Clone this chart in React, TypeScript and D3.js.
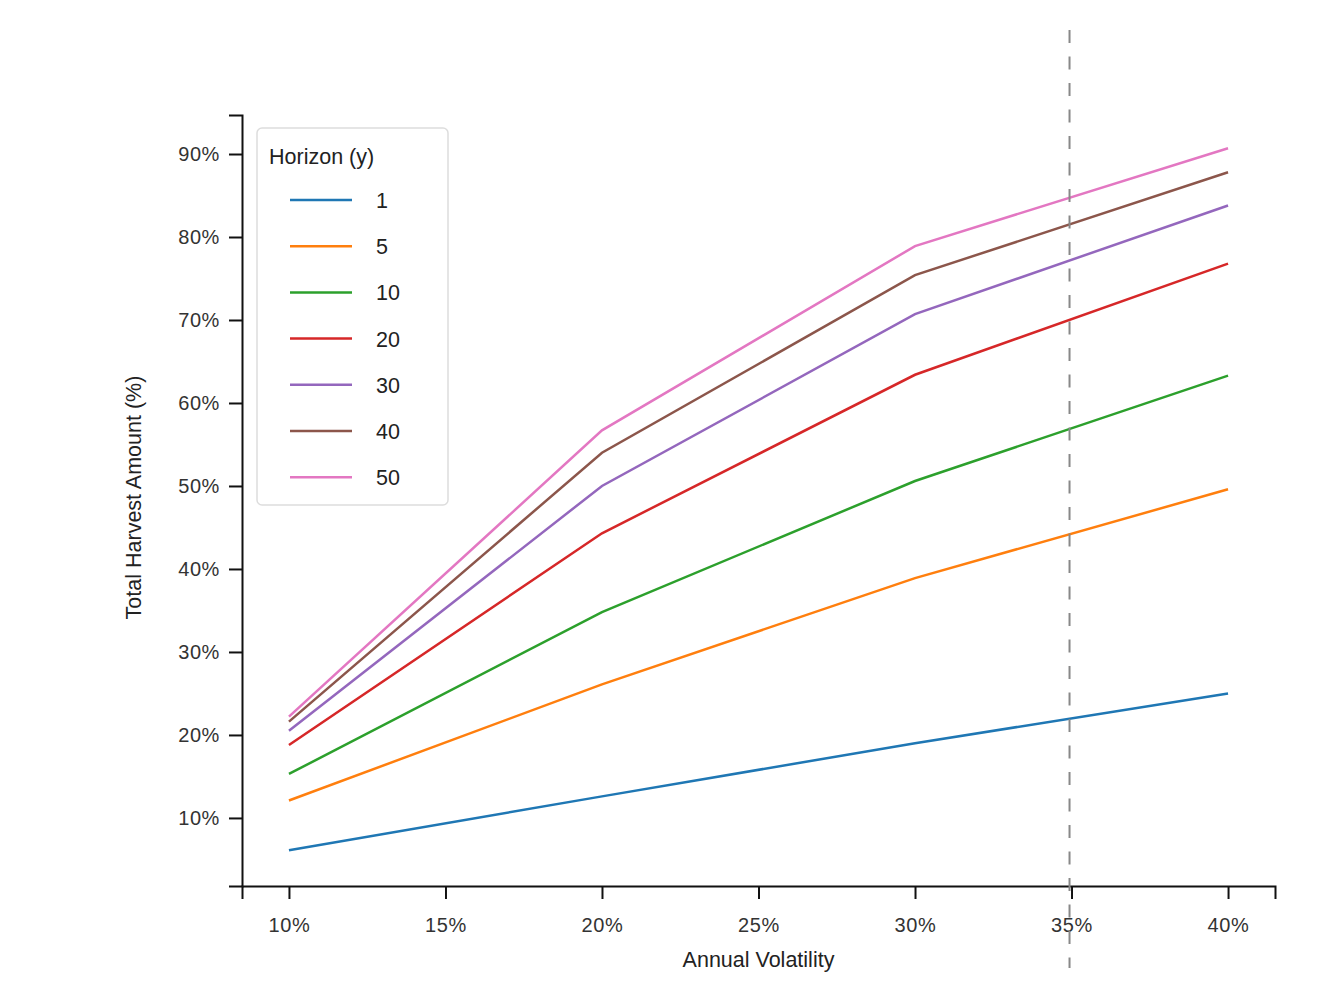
import React, { useRef, useEffect } from "react";
import * as d3 from "d3";

// volatility (%) on x, one series per horizon (years)
const volatility = [10, 20, 30, 40];
const horizons = ["1", "5", "10", "20", "30", "40", "50"];
const harvest1 = [6.1, 12.6, 19.0, 25.0];
const harvest5 = [12.1, 26.1, 38.9, 49.6];
const harvest10 = [15.3, 34.8, 50.6, 63.3];
const harvest20 = [18.8, 44.3, 63.4, 76.8];
const harvest30 = [20.5, 50.0, 70.7, 83.8];
const harvest40 = [21.6, 54.0, 75.4, 87.8];
const harvest50 = [22.2, 56.7, 78.9, 90.7];
const xTicks = [10, 15, 20, 25, 30, 35, 40];
const yTicks = [10, 20, 30, 40, 50, 60, 70, 80, 90];
const markerVol = 35;

const seriesValues = [harvest1, harvest5, harvest10, harvest20, harvest30, harvest40, harvest50];
const colors = d3.schemeCategory10.slice(0, 7);

const W = 1344;
const H = 1002;
const margin = { left: 242, right: 69, top: 115, bottom: 116 };
const font = "'Liberation Sans', Arial, sans-serif";

const App = () => {
  const svgRef = useRef(null);

  useEffect(() => {
    const svg = d3.select(svgRef.current);
    svg.selectAll("*").remove();

    const x = d3.scaleLinear().domain([8.5, 41.5]).range([margin.left, W - margin.right]);
    const y = d3.scaleLinear().domain([1.8, 94.7]).range([H - margin.bottom, margin.top]);

    // axes
    const xAxis = svg
      .append("g")
      .attr("transform", `translate(0, ${H - margin.bottom})`)
      .call(
        d3.axisBottom(x).tickValues(xTicks).tickSize(13).tickPadding(19).tickFormat((d) => `${d}%`)
      );
    const yAxis = svg
      .append("g")
      .attr("transform", `translate(${margin.left}, 0)`)
      .call(
        d3.axisLeft(y).tickValues(yTicks).tickSize(13).tickPadding(9).tickFormat((d) => `${d}%`)
      );
    [xAxis, yAxis].forEach((a) => {
      a.select(".domain").attr("stroke", "#111").attr("stroke-width", 2);
      a.selectAll(".tick line").attr("stroke", "#111").attr("stroke-width", 2);
      a.selectAll(".tick text")
        .attr("font-family", font)
        .attr("font-size", 20)
        .attr("letter-spacing", 0.6)
        .attr("fill", "#333");
    });

    // series
    const line = d3
      .line()
      .x((d) => x(d[0]))
      .y((d) => y(d[1]));
    seriesValues.forEach((vals, i) => {
      svg
        .append("path")
        .datum(volatility.map((v, j) => [v, vals[j]]))
        .attr("d", line)
        .attr("fill", "none")
        .attr("stroke", colors[i])
        .attr("stroke-width", 2.5);
    });

    // reference line
    svg
      .append("line")
      .attr("x1", x(markerVol) - 2)
      .attr("x2", x(markerVol) - 2)
      .attr("y1", 30)
      .attr("y2", 968)
      .attr("stroke", "#888")
      .attr("stroke-width", 2)
      .attr("stroke-dasharray", "13,13.5");

    // axis labels
    svg
      .append("text")
      .attr("x", (margin.left + W - margin.right) / 2)
      .attr("y", 967)
      .attr("text-anchor", "middle")
      .attr("font-family", font)
      .attr("font-size", 21.5)
      .attr("fill", "#222")
      .text("Annual Volatility");
    svg
      .append("text")
      .attr("transform", `translate(141, ${(margin.top + H - margin.bottom) / 2 - 3}) rotate(-90)`)
      .attr("text-anchor", "middle")
      .attr("font-family", font)
      .attr("font-size", 21.5)
      .attr("fill", "#222")
      .text("Total Harvest Amount (%)");

    // legend
    const legend = svg.append("g").attr("transform", "translate(257, 128)");
    legend
      .append("rect")
      .attr("width", 191)
      .attr("height", 377)
      .attr("rx", 5)
      .attr("fill", "#fff")
      .attr("fill-opacity", 0.8)
      .attr("stroke", "#ddd")
      .attr("stroke-width", 1.5);
    legend
      .append("text")
      .attr("x", 12)
      .attr("y", 36)
      .attr("font-family", font)
      .attr("font-size", 21.5)
      .attr("fill", "#222")
      .text("Horizon (y)");
    horizons.forEach((h, i) => {
      const ly = 72 + i * 46.2;
      legend
        .append("line")
        .attr("x1", 33)
        .attr("x2", 95)
        .attr("y1", ly)
        .attr("y2", ly)
        .attr("stroke", colors[i])
        .attr("stroke-width", 2.5);
      legend
        .append("text")
        .attr("x", 119)
        .attr("y", ly + 8)
        .attr("font-family", font)
        .attr("font-size", 21.5)
        .attr("fill", "#222")
        .text(h);
    });
  }, []);

  return (
    <div style={{ position: "absolute", left: 0, top: 0 }}>
      <svg ref={svgRef} width={W} height={H} style={{ display: "block", background: "#fff" }}></svg>
    </div>
  );
};

export default App;
